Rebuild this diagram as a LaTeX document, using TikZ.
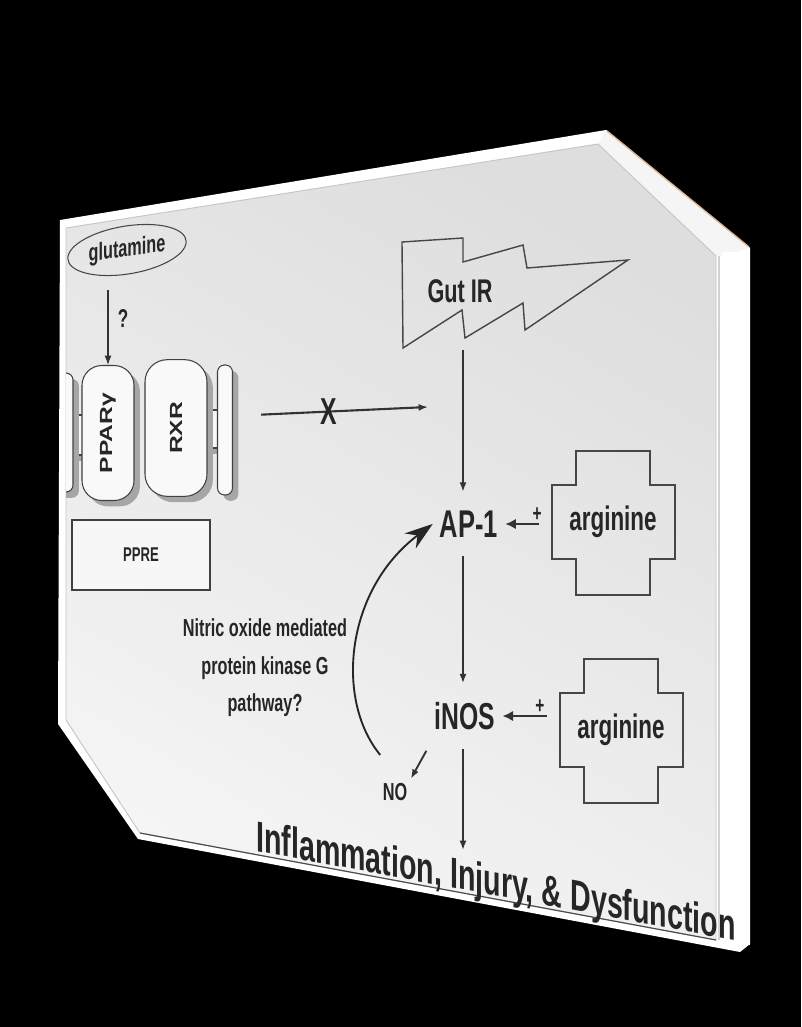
\documentclass[tikz,border=0pt]{standalone}
\usepackage{fontspec}
\setmainfont{Liberation Sans}
\newfontfamily\narrowsf[FakeStretch=0.66]{Liberation Sans}
\newcommand{\nsize}[2]{\narrowsf\bfseries\fontsize{#1}{#2}\selectfont}
\newcommand{\rsize}[2]{\bfseries\fontsize{#1}{#2}\selectfont}
\newcommand{\squeeze}[1]{\scalebox{0.66}[1]{#1}}
\usetikzlibrary{arrows.meta,shapes.geometric,shadows,calc}

\begin{document}
\begin{tikzpicture}[x=0.03cm, y=-0.03cm,
    arr/.style={-{Latex[length=8pt,width=6pt]}, line width=1.4pt, draw=black!80},
    parr/.style={-{Latex[length=9pt,width=9pt]}, line width=2.4pt, draw=black!80},
    bigarr/.style={-{Stealth[length=24pt,width=16pt]}, line width=1.6pt, draw=black!85},
    txt/.style={inner sep=0pt, text=black!85},
    outl/.style={draw=gray!55!black, line width=1.1pt},
    recep/.style={draw=gray!50!black, fill=gray!5, line width=0.9pt,
      drop shadow={shadow xshift=5pt, shadow yshift=-5pt, fill=gray!70, opacity=1}}]
  \useasboundingbox (0,0) rectangle (801,1027);
  % black page and tilted board
  \fill[black] (0,0) rectangle (801,1027);
  \fill[white] (60,220) -- (606,130) -- (750,248) -- (750,944) -- (740,952) -- (138,839) -- (58,724) -- cycle;
  \fill[gray!8] (598,144) -- (606,130) -- (750,248) -- (722,256) -- (716,256) -- cycle;
  \draw[brown!55!white, line width=1.2pt] (607,131) -- (749,247);
  \fill[white] (722,252) rectangle (750,945);
  \draw[gray!35, line width=1pt] (719,256) -- (719,940);
  \shade[top color=gray!26, bottom color=gray!8, shading angle=-30, draw=gray!45, line width=0.8pt]
    (66,228) -- (598,144) -- (716,256) -- (716,940) -- (140,833) -- (66,720) -- cycle;
  \draw[black!70, line width=1pt] (140,833) -- (716,940);

  % glutamine
  \node[ellipse, outl, line width=0.9pt, minimum width=3.55cm, minimum height=1.45cm, yslant=0.14,
    inner sep=0pt, text=black!85, font=\rsize{21}{25}] (glut) at (127,250) {\squeeze{glutamine}};
  \node[txt, font=\nsize{22}{26}] (qm) at (123,318) {?};

  % receptor pair on the PPRE
  \begin{scope}
    \clip (66,228) rectangle (300,720);
    \draw[recep] (56,415) rectangle (84,455);
    \draw[recep, rounded corners=6pt] (54,373) rectangle (73,492);
  \end{scope}
  \draw[recep] (205,410) rectangle (220,448);
  \node[recep, rounded corners=6pt, minimum width=0.45cm, minimum height=3.9cm] (pill) at (225,430) {};
  \node[recep, rounded corners=17pt, minimum width=1.56cm, minimum height=4.05cm, text=black!85,
    font=\rsize{15}{18}] (ppar) at (108,433) {\rotatebox{90}{\scalebox{1.4}[1]{PPARγ}}};
  \node[recep, rounded corners=19pt, minimum width=1.86cm, minimum height=4.1cm, text=black!85,
    font=\rsize{15}{18}] (rxr) at (176,428) {\rotatebox{90}{\scalebox{1.4}[1]{RXR}}};
  \node[draw=gray!50!black, line width=0.9pt, fill=gray!6, minimum width=4.14cm, minimum height=2.1cm,
    text=black!85, font=\nsize{17}{20}] (ppre) at (141,555) {PPRE};
  \draw[arr, line width=1pt, shorten <=13pt] (ppar.north |- glut.south) -- (ppar.north);

  % blocked signal
  \coordinate (blk) at (428,407);
  \draw[arr, line width=1.8pt, shorten <=24pt] ([yshift=12pt]pill.east) -- node[pos=0.49, txt, font=\nsize{32}{36}] (cross) {X} (blk);

  % gut ischemia / reperfusion
  \draw[outl, line width=1.2pt] (402,242) -- (463,238) -- (463,262) -- (523,245) -- (527,268) -- (628,260)
    -- (525,330) -- (523,303) -- (465,338) -- (462,310) -- (403,348) -- cycle;
  \node[txt, font=\nsize{28}{32}] (gut) at (460,291) {Gut IR};
  \coordinate (gutbot) at (463,350);

  % main chain
  \node[txt, inner xsep=6pt, inner ysep=16pt, font=\nsize{33}{38}] (ap1) at (469,524) {AP-1};
  \node[txt, inner xsep=6pt, inner ysep=16pt, font=\nsize{32}{38}] (inos) at (465,716) {iNOS};
  \coordinate (harm) at (463,850);
  \draw[arr] (gutbot) -- (gutbot |- ap1.north);
  \draw[arr] (ap1.south -| gutbot) -- (inos.north -| gutbot);
  \draw[arr] (inos.south -| gutbot) -- (harm);

  % arginine
  \foreach \n/\cx/\cy/\t in {arg1/613/522/ap1, arg2/621/730/inos} {
    \draw[outl] (\cx-37,\cy-71) -- (\cx+37,\cy-71) -- (\cx+37,\cy-37) -- (\cx+62,\cy-37) -- (\cx+62,\cy+37)
      -- (\cx+37,\cy+37) -- (\cx+37,\cy+73) -- (\cx-37,\cy+73) -- (\cx-37,\cy+37) -- (\cx-61,\cy+37)
      -- (\cx-61,\cy-37) -- (\cx-37,\cy-37) -- cycle;
    \node[txt, font=\nsize{29}{34}] (\n) at (\cx,\cy) {arginine};
    \draw[parr, shorten <=26pt] (\t.east -| \n.west) -- node[above=1pt, txt, font=\nsize{20}{22}] {+} (\t.east);
  }

  % NO feedback
  \node[txt, inner sep=2pt, font=\nsize{21}{25}] (no) at (395,792) {NO};
  \draw[arr, line width=1.6pt, shorten <=2pt, shorten >=2pt] (inos.south west) -- (no.north east);
  \draw[bigarr] ([yshift=22pt]no.north west) .. controls (335,700) and (345,590) .. (ap1.west);
  \node[txt, align=center, font=\nsize{21}{32}] (nopath) at (265,668)
    {Nitric oxide mediated\\protein kinase G\\pathway?};

  % outcome
  \node[txt, anchor=base west, yslant=-0.187, font=\rsize{37}{44}] (harmtxt) at (256,851)
    {\squeeze{Inflammation, Injury, \& Dysfunction}};
\end{tikzpicture}
\end{document}
